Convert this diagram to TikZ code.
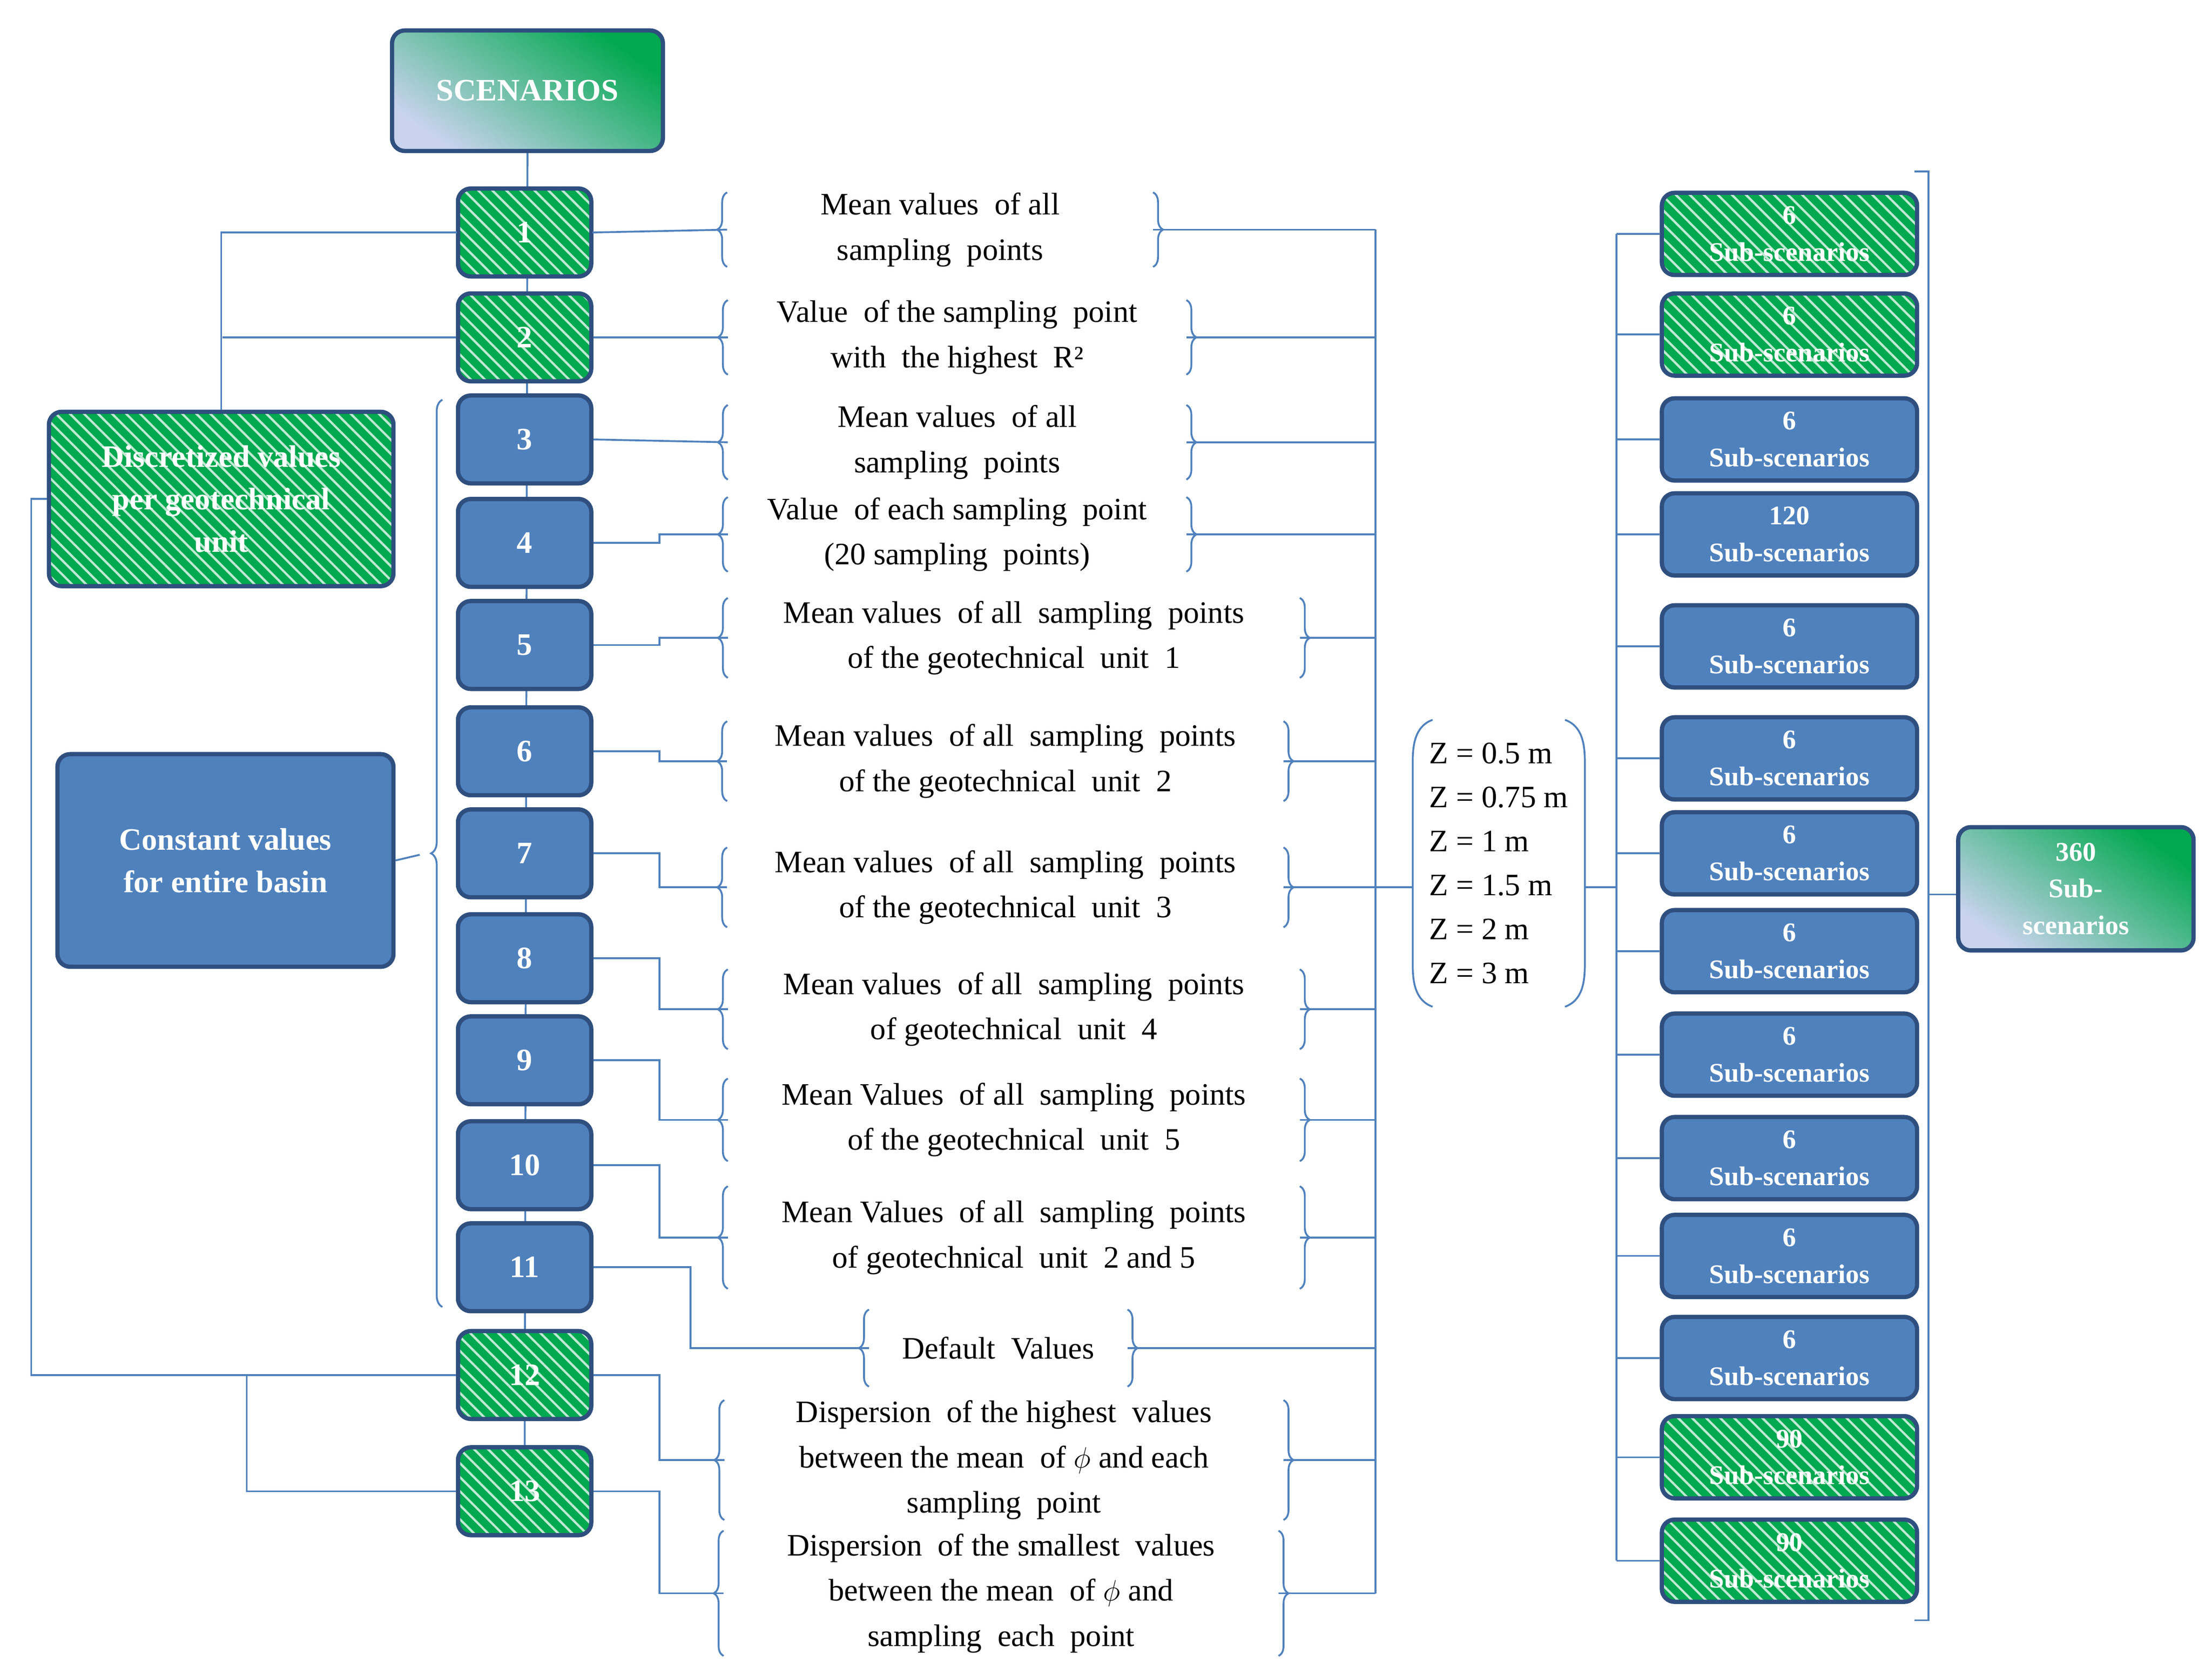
\documentclass[tikz,border=0pt]{standalone}
\usepackage{fontspec}
\setmainfont{Liberation Serif}
\usetikzlibrary{patterns.meta,decorations.pathreplacing}
\definecolor{lnc}{HTML}{4F81BD}
\definecolor{bdr}{HTML}{2F4F7F}
\definecolor{bfill}{HTML}{4F81BD}
\definecolor{gfill}{HTML}{00A84F}
\definecolor{lav}{HTML}{C9D3EE}
\tikzset{
 ln/.style={draw=lnc,line width=1.3pt},
 box/.style={draw=bdr,line width=3pt,rounded corners=9pt,text=white,font=\bfseries\fontsize{22}{30}\selectfont,align=center,inner sep=0pt},
 bl/.style={box,fill=bfill},
 gr/.style={box,preaction={fill=gfill},pattern={Lines[angle=-45,distance=7pt,line width=1.6pt]},pattern color=white!75!gfill},
 gd/.style={box,left color=gfill,right color=lav,shading angle=-35},
 num/.style={minimum width=94pt,minimum height=62pt},
 sub/.style={minimum width=180pt,minimum height=58pt,font=\bfseries\fontsize{19}{26}\selectfont},
 txt/.style={inner sep=0pt,align=center,font=\fontsize{22}{32}\selectfont},
 brc/.style={ln,decorate,decoration={brace,amplitude=7pt}}
}
\newcommand\brk[1]{\draw[brc] (#1.south west)--(#1.north west);\draw[brc] (#1.north east)--(#1.south east);}
\begin{document}
\begin{tikzpicture}[x=1pt,y=-1pt]
\useasboundingbox (0,0) rectangle (1560,1183);
\coordinate (jx) at (465,0);
\coordinate (busA) at (970,0);
\coordinate (busB) at (1140,0);
% spine
\draw[ln] (372,107) -- (370,1052);
\node[gd,minimum width=191pt,minimum height=85pt] (sc) at (372,64) {SCENARIOS};
\foreach \n/\y/\s in {1/164/gr,2/238/gr,3/310/bl,4/383/bl,5/455/bl,6/530/bl,7/602/bl,8/676/bl,9/748/bl,10/822/bl,11/894/bl,12/970/gr,13/1052/gr}
  \node[\s,num] (b\n) at (370,\y) {\n};
\node[gr,minimum width=243pt,minimum height=123pt] (dv) at (156,352) {Discretized values\\per geotechnical\\unit};
\node[bl,minimum width=237pt,minimum height=150pt] (cv) at (159,607) {Constant values\\for entire basin};
% text boxes
\node[txt,minimum width=300pt,minimum height=48pt] (t1) at (663,162) {Mean values\ \ of all\\sampling\ \ points};
\node[txt,minimum width=323pt,minimum height=50pt] (t2) at (675,238) {Value\ \ of the sampling\ \ point\\with\ \ the highest\ \ R²};
\node[txt,minimum width=323pt,minimum height=50pt] (t3) at (675,312) {Mean values\ \ of all\\sampling\ \ points};
\node[txt,minimum width=323pt,minimum height=50pt] (t4) at (675,377) {Value\ \ of each sampling\ \ point\\(20 sampling\ \ points)};
\node[txt,minimum width=403pt,minimum height=56pt] (t5) at (715,450) {Mean values\ \ of all\ \ sampling\ \ points\\of the geotechnical\ \ unit\ \ 1};
\node[txt,minimum width=392pt,minimum height=56pt] (t6) at (709,537) {Mean values\ \ of all\ \ sampling\ \ points\\of the geotechnical\ \ unit\ \ 2};
\node[txt,minimum width=392pt,minimum height=56pt] (t7) at (709,626) {Mean values\ \ of all\ \ sampling\ \ points\\of the geotechnical\ \ unit\ \ 3};
\node[txt,minimum width=403pt,minimum height=56pt] (t8) at (715,712) {Mean values\ \ of all\ \ sampling\ \ points\\of geotechnical\ \ unit\ \ 4};
\node[txt,minimum width=403pt,minimum height=58pt] (t9) at (715,790) {Mean Values\ \ of all\ \ sampling\ \ points\\of the geotechnical\ \ unit\ \ 5};
\node[txt,minimum width=403pt,minimum height=72pt] (t10) at (715,873) {Mean Values\ \ of all\ \ sampling\ \ points\\of geotechnical\ \ unit\ \ 2 and 5};
\node[txt,minimum width=182pt,minimum height=54pt] (td) at (704,951) {Default\ \ Values};
\node[txt,minimum width=394pt,minimum height=77pt] (t12) at (708,1030) {Dispersion\ \ of the highest\ \ values\\between the mean\ \ of $\phi$ and each\\sampling\ \ point};
\node[txt,minimum width=391pt,minimum height=88pt] (t13) at (706,1124) {Dispersion\ \ of the smallest\ \ values\\between the mean\ \ of $\phi$ and\\sampling\ \ each\ \ point};
\foreach \t in {t1,t2,t3,t4,t5,t6,t7,t8,t9,t10,td,t12,t13} {\brk{\t}}
% Z box
\node[txt,minimum width=121pt,minimum height=202pt,align=left,font=\fontsize{22}{31}\selectfont] (z) at (1057,609) {Z = 0.5 m\\Z = 0.75 m\\Z = 1 m\\Z = 1.5 m\\Z = 2 m\\Z = 3 m};
\draw[ln] ([xshift=14]z.north west) to[out=200,in=90] ([yshift=-30]z.north west) -- ([yshift=30]z.south west) to[out=-90,in=160] ([xshift=14]z.south west);
\draw[ln] ([xshift=-14]z.north east) to[out=-20,in=90] ([yshift=-30]z.north east) -- ([yshift=30]z.south east) to[out=-90,in=20] ([xshift=-14]z.south east);
% sub boxes
\foreach \n/\y/\s/\v in {1/165/gr/6,2/236/gr/6,3/310/bl/6,4/377/bl/120,5/456/bl/6,6/535/bl/6,7/602/bl/6,8/671/bl/6,9/744/bl/6,10/817/bl/6,11/886/bl/6,12/958/bl/6,13/1028/gr/90,14/1101/gr/90}
  \node[\s,sub] (s\n) at (1262,\y) {\v\\Sub-scenarios};
\node[gd,minimum width=166pt,minimum height=87pt,font=\bfseries\fontsize{19}{26}\selectfont] (tot) at (1464,627) {360\\Sub-\\scenarios};
% left connectors
\draw[ln] (b1.west) -| (dv.north);
\draw[ln] (b2.west) -- (157,238);
\draw[ln] (dv.west) -| (22,970) -- (b12.west);
\draw[ln] (b13.west) -| (174,970);
\draw[brc,decoration={brace,amplitude=8pt}] (312,922) -- (312,282);
\draw[ln] (cv.east) -- (296,603);
% box -> text
\draw[ln] (b1.east) -- (t1.west);
\draw[ln] (b2.east) -- (t2.west);
\draw[ln] (b3.east) -- (t3.west);
\foreach \i in {4,5,6,7,8,9,10,12,13} {\draw[ln] (b\i.east) -- (b\i.east -| jx) |- (t\i.west);}
\draw[ln] (b11.east) -- (487,894) |- (td.west);
% text -> bus
\foreach \t in {t1,t2,t3,t4,t5,t6,t7,t8,t9,t10,td,t12,t13} {\draw[ln] (\t.east) -- (\t.east -| busA);}
\draw[ln] (busA |- t1.east) -- (busA |- t13.east);
\draw[ln] (t7.east -| busA) -- (z.west |- t7.east);
\draw[ln] (z.east |- t7.east) -- (t7.east -| busB);
\draw[ln] (busB |- s1.west) -- (busB |- s14.west);
\foreach \i in {1,...,14} {\draw[ln] (s\i.west -| busB) -- (s\i.west);}
\draw[ln] (1350,121) -- (1360,121) -- (1360,1143) -- (1350,1143);
\draw[ln] (1360,631) -- (tot.west |- 0,631);
\end{tikzpicture}
\end{document}
